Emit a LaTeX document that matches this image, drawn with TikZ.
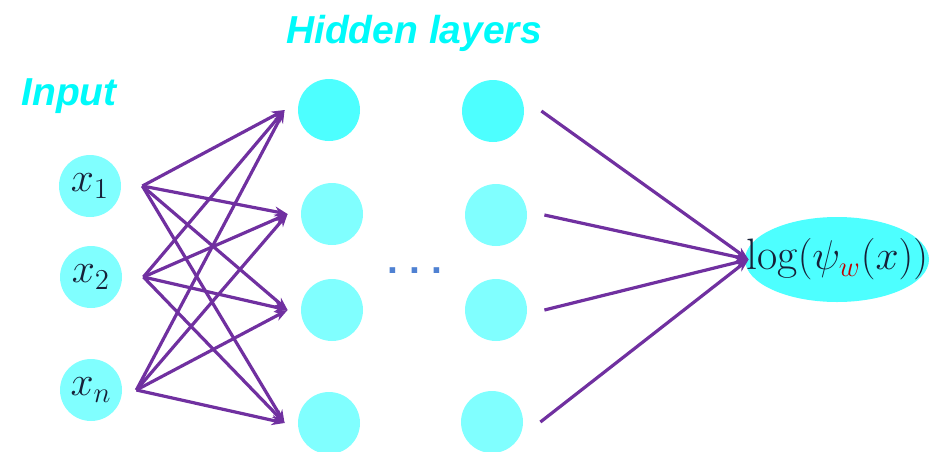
\documentclass[tikz,border=0pt]{standalone}
\usepackage{fontspec}
\usepackage{xcolor}
\usepackage{tikz}
\usetikzlibrary{arrows.meta,positioning,shapes.geometric}
\newfontfamily\headfont{Liberation Sans}
\definecolor{cyanhead}{RGB}{0,250,250}
\definecolor{cyandeep}{RGB}{77,255,255}
\definecolor{cyanpale}{RGB}{128,255,255}
\definecolor{wirepurple}{RGB}{112,48,160}
\definecolor{dotblue}{RGB}{79,129,210}
\definecolor{inknavy}{RGB}{23,32,56}
\definecolor{wred}{RGB}{192,0,0}
\tikzset{
  unit/.style={circle, inner sep=0pt, minimum size=31pt, fill=cyanpale},
  unitdeep/.style={unit, fill=cyandeep},
  inp/.style={circle, inner sep=0pt, minimum size=31pt, fill=cyanpale,
              text=inknavy, font=\fontsize{22}{26}\selectfont},
  outp/.style={ellipse, inner sep=0pt, minimum width=92pt, minimum height=42.5pt,
               fill=cyandeep},
  head/.style={font=\headfont\bfseries\itshape\fontsize{19.5}{23}\selectfont,
               text=cyanhead, anchor=base},
  link/.style={-{Stealth[length=6.5pt,width=5pt]}, line width=1.6pt, draw=wirepurple},
}

\begin{document}
\begin{tikzpicture}[x=0.5pt,y=-0.5pt]
\useasboundingbox (0,0) rectangle (938,451);
% labels
\node[head] (tin) at (69,105) {Input};
\node[head] (thid) at (414,43) {Hidden layers};
% input layer
\node[inp] (x1) at (90,186) {$x_1$};
\node[inp] (x2) at (91,277) {$x_2$};
\node[inp] (xn) at (91,390) {$x_n$};
% hidden layers
\node[unitdeep] (h1) at (329,110) {};
\node[unit] (h2) at (332,214) {};
\node[unit] (h3) at (332,310) {};
\node[unit] (h4) at (329,423) {};
\node[unitdeep] (g1) at (493,111) {};
\node[unit] (g2) at (496,215) {};
\node[unit] (g3) at (496,310) {};
\node[unit] (g4) at (492,422) {};
\node[anchor=base, text=dotblue, font=\headfont\bfseries\fontsize{19.5}{23}\selectfont]
  (dots) at (415,273) {.\ .\ .};
% output
\node[outp] (out) at (837,259.5) {};
\node[text=inknavy, font=\fontsize{22}{26}\selectfont, inner sep=0pt, anchor=west]
  (outl) at (746,259.5) {$\log(\psi_{\textcolor{wred}{w}}(x))$};
% connections
\foreach \s/\d in {x1/10.5pt,x2/10.5pt,xn/7pt}
  \foreach \t in {h1,h2,h3,h4}
    \draw[link] ([xshift=\d]\s.east) -- ([xshift=-6.5pt]\t.west);
\foreach \s in {g1,g2,g3,g4}
  \draw[link] ([xshift=8.5pt]\s.east) -- ([xshift=2pt]out.west);
\end{tikzpicture}
\end{document}
